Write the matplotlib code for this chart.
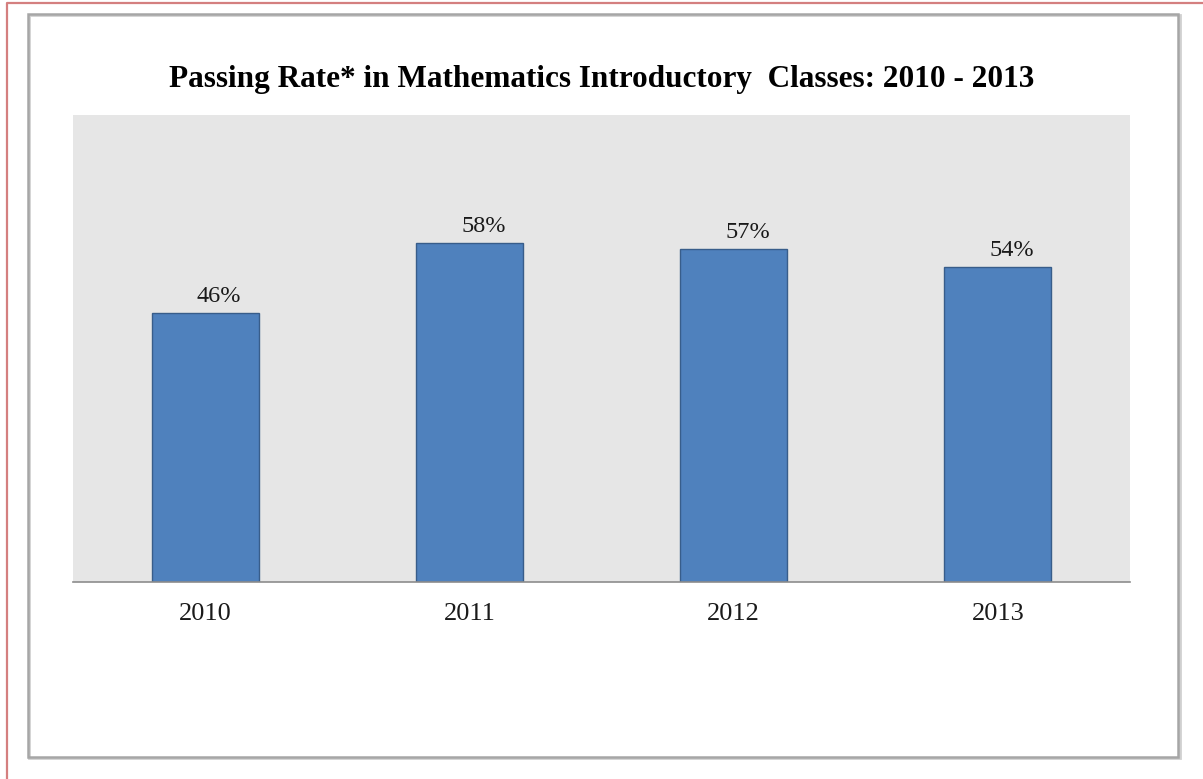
import matplotlib.pyplot as plt
from matplotlib.lines import Line2D
from matplotlib.patches import Rectangle

years = ['2010', '2011', '2012', '2013']
rates = [46, 58, 57, 54]
labels = ['46%', '58%', '57%', '54%']

W, H = 1203, 779
fig = plt.figure(figsize=(W / 100, H / 100), dpi=100)

# red frame (only top and left visible) and gray chart frame with soft shadow
fig.lines.append(Line2D([6.5 / W, 6.5 / W, 1], [0, (H - 2.5) / H, (H - 2.5) / H], transform=fig.transFigure,
                        color='#D47F7F', linewidth=1.6))
fig.patches.append(Rectangle((28.5 / W, (H - 758) / H), (1179.5 - 28.5) / W, (758 - 15) / H,
                             transform=fig.transFigure, fill=False, edgecolor='#D0D0D0', linewidth=2.0))
fig.patches.append(Rectangle((27.5 / W, (H - 756.5) / H), (1178 - 27.5) / W, (756.5 - 14) / H,
                             transform=fig.transFigure, fill=False, edgecolor='#A6A6A6', linewidth=1.8))

ax = fig.add_axes([73 / W, (H - 582) / H, 1057 / W, 467 / H])
ax.set_facecolor('#E6E6E6')
x = range(len(years))
ax.bar(x, rates, width=0.405, color='#4F81BD', edgecolor='#385D8A', linewidth=1.0)
ax.set_xlim(-0.5, 3.5)
ax.set_ylim(0, 80)

for xi, r, lab in zip(x, rates, labels):
    ax.annotate(lab, (xi, r), xytext=(10, 8), textcoords='offset points', ha='center', va='baseline',
                family='Liberation Serif', fontsize=17.5, color='#1A1A1A')

ax.set_xticks(list(x))
ax.set_xticklabels(years, family='Liberation Serif', fontsize=19, color='#1A1A1A')
ax.tick_params(axis='x', length=0, pad=15)
ax.set_yticks([])
for s in ['top', 'left', 'right']:
    ax.spines[s].set_visible(False)
ax.spines['bottom'].set_color('#8C8C8C')
ax.spines['bottom'].set_linewidth(1.2)

fig.text(601.5 / W, (H - 79) / H, 'Passing Rate* in Mathematics Introductory  Classes: 2010 - 2013',
         ha='center', va='center', family='Liberation Serif', fontweight='bold', fontsize=22.5)

fig.savefig('out.png', dpi=100)
